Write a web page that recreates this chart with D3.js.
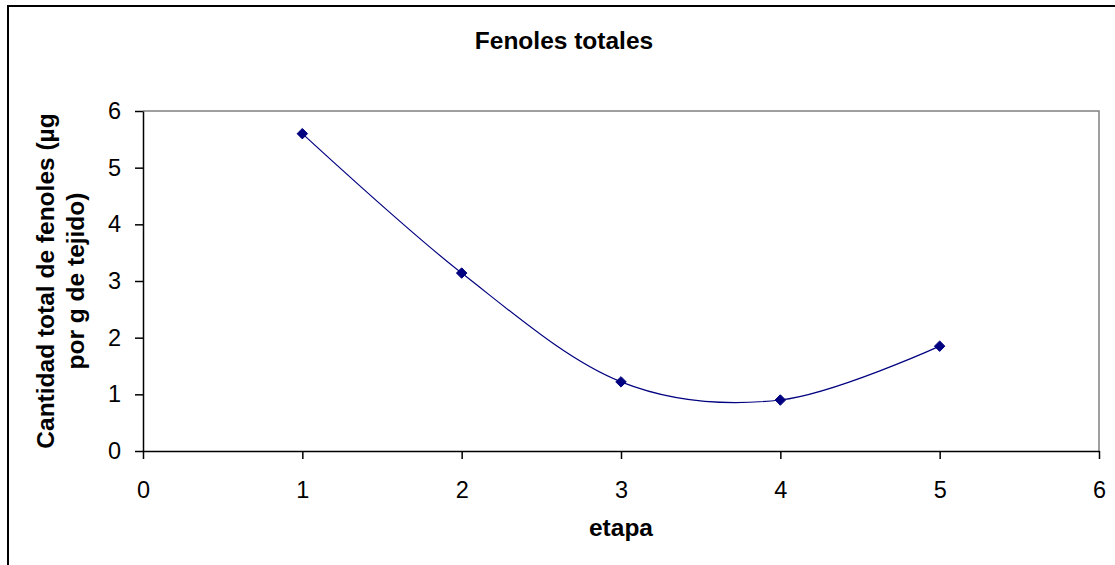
<!DOCTYPE html>
<html>
<head>
<meta charset="utf-8">
<script src="https://cdn.jsdelivr.net/npm/d3@7"></script>
<style>
  body { margin: 0; background: #fff; }
  text { font-family: Arial, "Liberation Sans", sans-serif; }
</style>
</head>
<body>
<svg class="chart"></svg>
<script>
const etapas = [1, 2, 3, 4, 5];
const fenoles = [5.6, 3.14, 1.22, 0.9, 1.85];
const xTicks = [0, 1, 2, 3, 4, 5, 6];
const yTicks = [0, 1, 2, 3, 4, 5, 6];
const title = 'Fenoles totales';
const xLabel = 'etapa';
const yLabelLines = ['Cantidad total de fenoles (µg', 'por g de tejido)'];

const width = 1115;
const height = 565;
const plot = { left: 143, right: 1099, top: 111, bottom: 451 };

const svg = d3.select('.chart')
  .attr('width', width)
  .attr('height', height);

// outer chart border
svg.append('rect')
  .attr('x', 8).attr('y', 6)
  .attr('width', width + 10).attr('height', height + 10)
  .attr('fill', '#fff')
  .attr('stroke', '#000')
  .attr('stroke-width', 2);

const x = d3.scaleLinear().domain([0, 6]).range([plot.left, plot.right]);
const y = d3.scaleLinear().domain([0, 6]).range([plot.bottom, plot.top]);

// plot area frame (top and right are grey)
svg.append('path')
  .attr('d', `M${plot.left},${plot.top}H${plot.right}V${plot.bottom}`)
  .attr('fill', 'none')
  .attr('stroke', '#808080')
  .attr('stroke-width', 1.5);

const xAxis = svg.append('g')
  .attr('transform', `translate(0,${plot.bottom})`)
  .call(d3.axisBottom(x).tickValues(xTicks).tickFormat(d3.format('d')).tickSizeInner(8).tickSizeOuter(0).tickPadding(22));

const yAxis = svg.append('g')
  .attr('transform', `translate(${plot.left},0)`)
  .call(d3.axisLeft(y).tickValues(yTicks).tickFormat(d3.format('d')).tickSizeInner(8).tickSizeOuter(0).tickPadding(14));

[xAxis, yAxis].forEach((g) => {
  g.select('.domain').attr('stroke', '#000').attr('stroke-width', 1.5);
  g.selectAll('.tick line').attr('stroke', '#000').attr('stroke-width', 1.5);
  g.selectAll('.tick text')
    .attr('fill', '#000')
    .style('font-size', '23.5px')
    .style('font-family', 'Arial, "Liberation Sans", sans-serif');
});

// smoothed line like excel
const data = etapas.map((e, i) => ({ e, v: fenoles[i] }));
const line = d3.line()
  .x(d => x(d.e))
  .y(d => y(d.v))
  .curve(d3.curveCardinal.tension(0));

svg.append('path')
  .datum(data)
  .attr('d', line)
  .attr('fill', 'none')
  .attr('stroke', '#000080')
  .attr('stroke-width', 1.2);

svg.selectAll('.marker')
  .data(data)
  .enter()
  .append('path')
  .attr('class', 'marker')
  .attr('d', d3.symbol().type(d3.symbolDiamond2).size(70))
  .attr('transform', d => `translate(${x(d.e)},${y(d.v)})`)
  .attr('fill', '#000080')
  .attr('stroke', '#000080')
  .attr('stroke-width', 1);

svg.append('text')
  .attr('x', 564)
  .attr('y', 49)
  .attr('text-anchor', 'middle')
  .style('font-size', '24.5px')
  .style('font-weight', 'bold')
  .text(title);

svg.append('text')
  .attr('x', (plot.left + plot.right) / 2)
  .attr('y', 536)
  .attr('text-anchor', 'middle')
  .style('font-size', '24.5px')
  .style('font-weight', 'bold')
  .text(xLabel);

const yLabel = svg.append('text')
  .attr('transform', 'translate(54,281) rotate(-90)')
  .attr('text-anchor', 'middle')
  .style('font-size', '24.5px')
  .style('font-weight', 'bold');

yLabel.selectAll('tspan')
  .data(yLabelLines)
  .enter()
  .append('tspan')
  .attr('x', 0)
  .attr('dy', (d, i) => (i === 0 ? 0 : 30))
  .text(d => d);
</script>
</body>
</html>
